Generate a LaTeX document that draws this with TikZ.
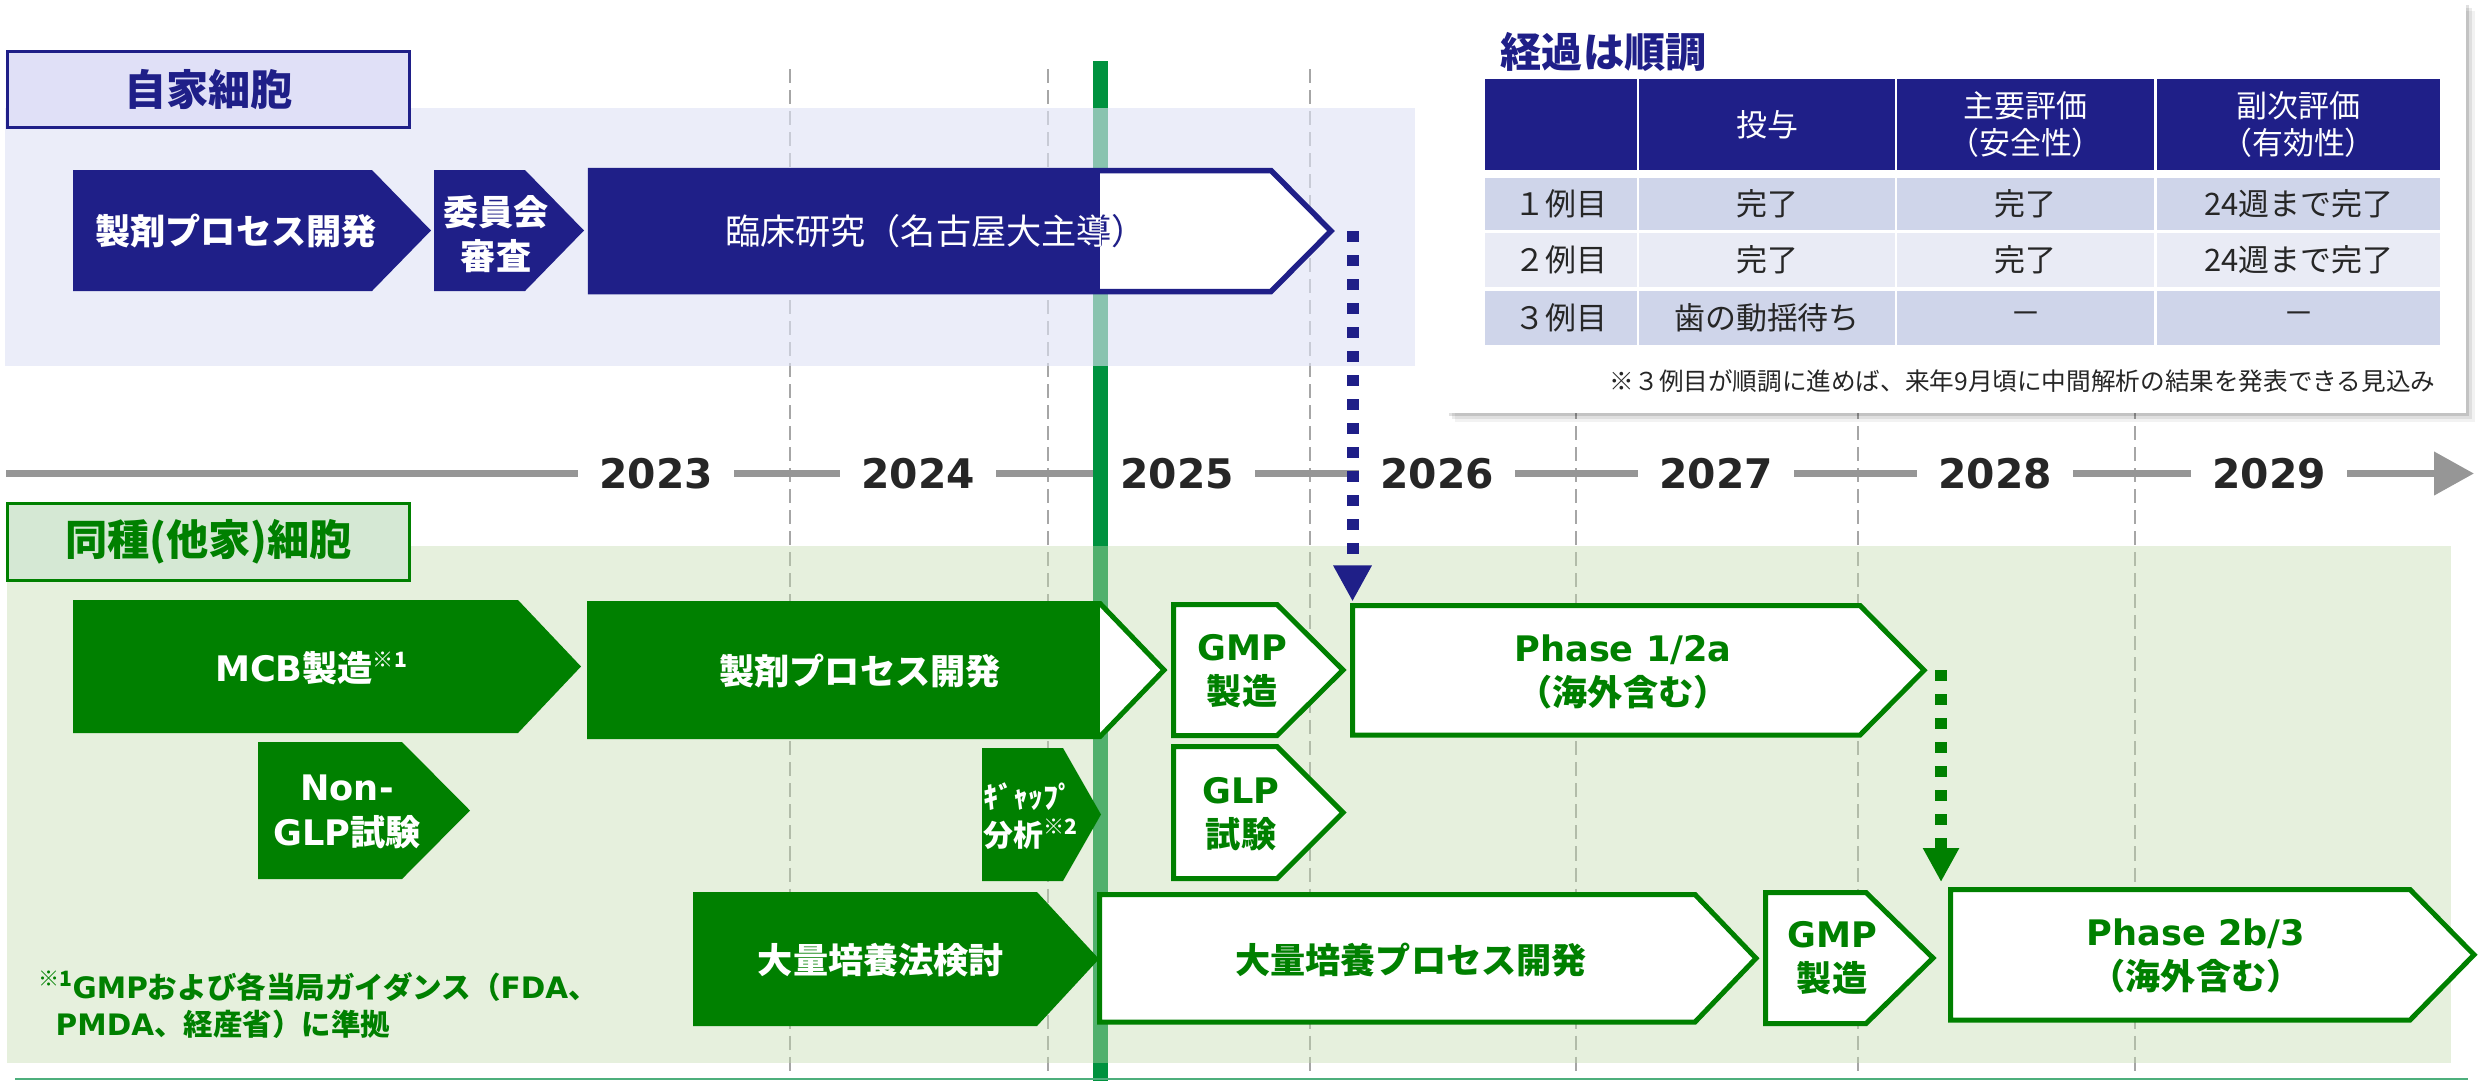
\documentclass[tikz,border=0pt]{standalone}
\usepackage{fontspec}
\setmainfont{Noto Sans CJK JP}
\newfontfamily\dejavu{DejaVu Sans}
\usetikzlibrary{arrows.meta}

\definecolor{navy}{RGB}{31,31,136}
\definecolor{dkgreen}{RGB}{0,128,0}
\definecolor{nowgreen}{RGB}{0,146,63}
\definecolor{bandblue}{RGB}{222,226,245}
\definecolor{bandgreen}{RGB}{195,219,175}
\definecolor{headblue}{RGB}{224,224,247}
\definecolor{headgreen}{RGB}{213,232,212}
\definecolor{rowdark}{RGB}{207,213,234}
\definecolor{rowlight}{RGB}{233,235,245}
\definecolor{axisgray}{RGB}{150,150,150}
\definecolor{gridgray}{RGB}{166,166,166}
\definecolor{txt}{RGB}{38,38,38}
\definecolor{footline}{RGB}{77,175,124}

% chevron: [style]{name}{left}{shoulder}{tip}{top}{bottom}
\newcommand{\chev}[7][]{%
  \draw[#1] (#3,#6) coordinate (#2-nw) -- (#4,#6) -- (#5,{(#6+#7)/2}) coordinate (#2-tip)
    -- (#4,#7) -- (#3,#7) coordinate (#2-sw) -- cycle;}
\newcommand{\sups}[1]{\raisebox{0.4em}{\fontsize{6pt}{6pt}\selectfont #1}}

\tikzset{
  bluefill/.style={fill=navy, draw=none},
  greenfill/.style={fill=dkgreen, draw=none},
  blueline/.style={fill=white, draw=navy, line width=0.055cm},
  greenline/.style={fill=white, draw=dkgreen, line width=0.05cm},
  lbl/.style={font=\bfseries\fontsize{10pt}{12.6pt}\selectfont, align=center, inner sep=0pt},
  gaplbl/.style={font=\bfseries\fontsize{8.5pt}{10.8pt}\selectfont, align=left, inner sep=0pt, text=white},
  clinlbl/.style={font=\fontsize{10pt}{12pt}\selectfont, inner sep=0pt},
  year/.style={font=\dejavu\bfseries\fontsize{11.6pt}{12pt}\selectfont, text=txt, fill=white, inner xsep=0.21cm, inner ysep=0.02cm},
  grid/.style={gridgray, line width=0.015cm, dash pattern=on 0.14cm off 0.07cm},
  section/.style={line width=0.03cm, inner sep=0pt, font=\bfseries\fontsize{12pt}{14pt}\selectfont},
  hcell/.style={fill=navy, text=white, inner sep=0pt, align=center, font=\fontsize{8.8pt}{10.5pt}\selectfont},
  cell/.style={text=txt, inner sep=0pt, font=\fontsize{8.8pt}{10.5pt}\selectfont},
  bluedot/.style={navy, line width=0.12cm, dash pattern=on 0.11cm off 0.13cm, -{Triangle[length=0.36cm,width=0.36cm]}},
  greendot/.style={dkgreen, line width=0.12cm, dash pattern=on 0.11cm off 0.13cm, -{Triangle[length=0.34cm,width=0.34cm]}}
}

\begin{document}
\begin{tikzpicture}[x=0.01cm, y=-0.01cm]
 \useasboundingbox (0,0) rectangle (2483,1081);
 % year grid
 \foreach \gx in {790,1048,1310,1576,1858,2135} \draw[grid] (\gx,69)--(\gx,1072);
 % time axis
 \draw[axisgray, line width=0.075cm, -{Triangle[length=0.4cm,width=0.42cm]}] (6,473.5)--(2474,473.5);
 \foreach \yr/\yx in {2023/656,2024/918,2025/1177,2026/1437,2027/1716,2028/1995,2029/2269}
   \node[year] (y\yr) at (\yx,474) {\yr};
 % today
 \draw[nowgreen, line width=0.15cm] (1100,61)--(1100,1081);
 \fill[bandblue, opacity=0.62] (5,108) rectangle (1415,366);
 \fill[bandgreen, opacity=0.42] (7,546) rectangle (2451,1063);
 \draw[footline, line width=0.02cm] (15,1079)--(2468,1079);

 \node[section, draw=navy, fill=headblue, text=navy, minimum width=4.01cm, minimum height=0.75cm] (auto) at (208.5,89.5) {自家細胞};
 \node[section, draw=dkgreen, fill=headgreen, text=dkgreen, minimum width=4.01cm, minimum height=0.76cm] (allo) at (208.5,542) {同種(他家)細胞};

 % autologous
 \chev[bluefill]{prep}{73}{372}{431}{170}{291}
 \chev[bluefill]{irb}{434}{525}{584}{170}{291}
 \chev[blueline]{clin}{590.5}{1271}{1331}{170.5}{291.5}
 \fill[navy] (587.75,167.75) rectangle (1100,294.25);
 \node[lbl, text=white] (prep-t) at (236,231) {製剤プロセス開発};
 \node[lbl, text=white] (irb-t) at (496,234) {委員会\\審査};
 \node[clinlbl, text=navy] (clin-t) at (936,231) {臨床研究（名古屋大主導）};
 \begin{scope}
  \clip (587,160) rectangle (1100,300);
  \node[clinlbl, text=white] (clin-t2) at (936,231) {臨床研究（名古屋大主導）};
 \end{scope}

 % allogeneic
 \chev[greenfill]{mcb}{73}{518}{581}{600}{733}
 \chev[greenline]{gprep}{589.5}{1100}{1164}{603.5}{736.5}
 \fill[dkgreen] (587,601) rectangle (1100,739);
 \chev[greenfill]{nonglp}{258}{402}{470}{742}{879}
 \chev[greenfill]{gap}{982}{1063}{1101}{748}{881}
 \chev[greenfill]{scale}{693}{1037}{1099}{892}{1026}
 \chev[greenline]{gmp1}{1173.5}{1277}{1343}{604.5}{735.5}
 \chev[greenline]{glp}{1173.5}{1277}{1343}{746.5}{878.5}
 \chev[greenline]{ph1}{1352.5}{1860}{1924}{605.5}{735}
 \chev[greenline]{scaleup}{1099.5}{1695}{1756}{894.5}{1022}
 \chev[greenline]{gmp2}{1765.5}{1866}{1933}{892.5}{1023.5}
 \chev[greenline]{ph2}{1950.5}{2410}{2474}{889.5}{1020}

 \node[lbl, text=white] (mcb-t) at (311,668) {{\dejavu MCB}製造\sups{※1}};
 \node[lbl, text=white] (gprep-t) at (860,671) {製剤プロセス開発};
 \node[lbl, text=white] (nonglp-t) at (347,812) {{\dejavu Non-}\\{\dejavu GLP}試験};
 \node[gaplbl, anchor=west] (gap-t) at (983,816) {ｷﾞｬｯﾌﾟ\\分析\sups{※2}};
 \node[lbl, text=white] (scale-t) at (881,960) {大量培養法検討};
 \node[lbl, text=dkgreen] (gmp1-t) at (1242,671) {{\dejavu GMP}\\製造};
 \node[lbl, text=dkgreen] (glp-t) at (1241,814) {{\dejavu GLP}\\試験};
 \node[lbl, text=dkgreen] (ph1-t) at (1623,672) {{\dejavu Phase 1/2a}\\（海外含む）};
 \node[lbl, text=dkgreen] (scaleup-t) at (1411,960) {大量培養プロセス開発};
 \node[lbl, text=dkgreen] (gmp2-t) at (1832,958) {{\dejavu GMP}\\製造};
 \node[lbl, text=dkgreen] (ph2-t) at (2196,956) {{\dejavu Phase 2b/3}\\（海外含む）};
 \node[anchor=west, align=left, inner sep=0pt, text=dkgreen, font=\bfseries\fontsize{8.4pt}{10.6pt}\selectfont] (note1) at (38,1005)
   {\sups{※1}{\dejavu GMP}および各当局ガイダンス（{\dejavu FDA}、\\\hspace*{0.17cm}{\dejavu PMDA}、経産省）に準拠};

 % links
 \draw[bluedot, shorten >=0.04cm] (clin-tip -| ph1-nw)--(ph1-nw);
 \coordinate (ph1-out) at ([xshift=0.17cm]ph1-tip);
 \draw[greendot, shorten >=0.075cm] (ph1-out)--(ph1-out |- ph2-nw);

 % status table
 \foreach \s/\o in {3/0.12,6/0.08,9/0.05} \fill[black, opacity=\o] ({1446+\s},{2+\s}) rectangle ({2466+\s},{413+\s});
 \fill[white] (1446,2) rectangle (2466,413);
 \node[anchor=west, inner sep=0pt, text=navy, font=\bfseries\fontsize{11.7pt}{13pt}\selectfont] (tbl-title) at (1500,52) {経過は順調};
 \node[hcell, minimum width=1.52cm, minimum height=0.91cm] (h1) at (1561,124.5) {};
 \node[hcell, minimum width=2.56cm, minimum height=0.91cm] (h2) at (1767,124.5) {投与};
 \node[hcell, minimum width=2.57cm, minimum height=0.91cm] (h3) at (2025.5,124.5) {主要評価\\（安全性）};
 \node[hcell, minimum width=2.83cm, minimum height=0.91cm] (h4) at (2298.5,124.5) {副次評価\\（有効性）};
 \node[cell, fill=rowdark, minimum width=1.52cm, minimum height=0.52cm] (r1c1) at (1561,204) {１例目};
 \node[cell, fill=rowdark, minimum width=2.56cm, minimum height=0.52cm] (r1c2) at (1767,204) {完了};
 \node[cell, fill=rowdark, minimum width=2.57cm, minimum height=0.52cm] (r1c3) at (2025.5,204) {完了};
 \node[cell, fill=rowdark, minimum width=2.83cm, minimum height=0.52cm] (r1c4) at (2298.5,204) {24週まで完了};
 \node[cell, fill=rowlight, minimum width=1.52cm, minimum height=0.54cm] (r2c1) at (1561,260) {２例目};
 \node[cell, fill=rowlight, minimum width=2.56cm, minimum height=0.54cm] (r2c2) at (1767,260) {完了};
 \node[cell, fill=rowlight, minimum width=2.57cm, minimum height=0.54cm] (r2c3) at (2025.5,260) {完了};
 \node[cell, fill=rowlight, minimum width=2.83cm, minimum height=0.54cm] (r2c4) at (2298.5,260) {24週まで完了};
 \node[cell, fill=rowdark, minimum width=1.52cm, minimum height=0.54cm] (r3c1) at (1561,318) {３例目};
 \node[cell, fill=rowdark, minimum width=2.56cm, minimum height=0.54cm] (r3c2) at (1767,318) {歯の動揺待ち};
 \node[cell, fill=rowdark, minimum width=2.57cm, minimum height=0.54cm] (r3c3) at (2025.5,318) {－};
 \node[cell, fill=rowdark, minimum width=2.83cm, minimum height=0.54cm] (r3c4) at (2298.5,318) {－};
 \node[anchor=east, inner sep=0pt, text=txt, font=\fontsize{7pt}{8pt}\selectfont] (tbl-note) at (2436,381)
   {※３例目が順調に進めば、来年9月頃に中間解析の結果を発表できる見込み};
\end{tikzpicture}
\end{document}
